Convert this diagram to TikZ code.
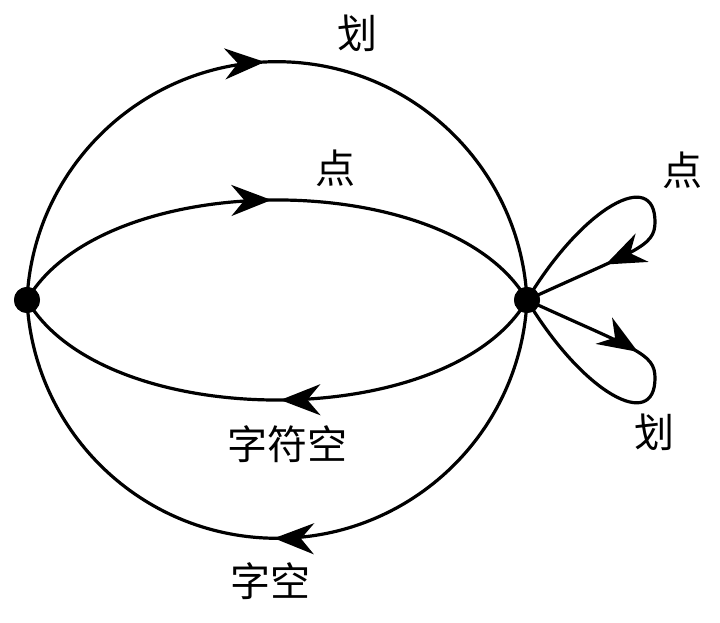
\documentclass[tikz,border=0pt]{standalone}
\usepackage{fontspec}
\newfontfamily\cjk{Noto Sans CJK SC}
\usetikzlibrary{arrows.meta,decorations.markings}
\begin{document}
\begin{tikzpicture}[x=1pt,y=1pt,
  edge/.style={line width=3.2pt},
  markat/.style={postaction={decorate},decoration={markings,mark=at position #1 with {\arrow{Stealth[length=40pt,width=31pt,inset=13pt]}}}},
  dot/.style={circle,fill=black,inner sep=0pt,minimum size=26pt},
  lbl/.style={font=\cjk\fontsize{40}{40}\selectfont,inner sep=0pt}]
\useasboundingbox (0,0) rectangle (720,623);
\fill[white] (0,0) rectangle (720,623);
\node[dot] (L) at (27,323) {};
\node[dot] (R) at (527,323) {};
% outer upper arc
\draw[edge,markat=0.484] (L.center) arc[start angle=177.25,end angle=2.75,radius=250.3];
% outer lower arc
\draw[edge,markat=0.504] (R.center) arc[start angle=357.25,end angle=182.75,radius=250.3];
% inner upper curve
\draw[edge,markat=0.49] (L.center) .. controls +(60:154) and +(120:154) .. (R.center);
% inner lower curve
\draw[edge,markat=0.494] (R.center) .. controls +(-120:154) and +(-60:154) .. (L.center);
% loops
\coordinate (A1) at (655,401);
\coordinate (A2) at (655,245);
\draw[edge,markat=0.75] (R.center) .. controls (583.7,417.3) and (655,455) .. (A1)
   .. controls (655,376) and (636,373) .. (R.center);
\draw[edge,markat=0.355] (R.center) .. controls (636,273) and (655,270) .. (A2)
   .. controls (655,191) and (583.7,228.7) .. (R.center);
\node[dot] at (L) {};
\node[dot] at (R) {};
% labels
\node[lbl] (t1) at (357,590) {划};
\node[lbl] (t2) at (335,455) {点};
\node[lbl] (t3) at (682,453) {点};
\node[lbl] (t4) at (654,191) {划};
\node[lbl] (t5) at (287,179) {字符空};
\node[lbl] (t6) at (270,42) {字空};
\end{tikzpicture}
\end{document}
